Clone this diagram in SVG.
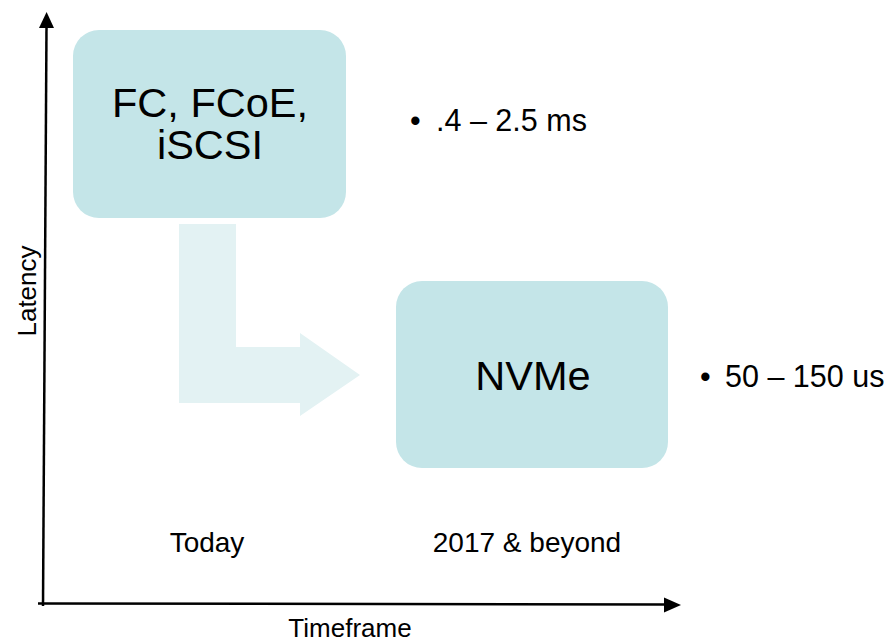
<svg xmlns="http://www.w3.org/2000/svg" width="894" height="639" viewBox="0 0 894 639">
  <style>
    text { font-family: "Liberation Sans", Arial, sans-serif; fill: #000; }
    .box { fill: #C4E5E8; }
    .axis { stroke: #000; stroke-width: 2.5; fill: none; }
    .head { fill: #000; }
    .flow { fill: #E3F2F3; }
    .big { font-size: 41.5px; text-anchor: middle; }
    .note { font-size: 30.5px; }
    .tick { font-size: 28px; text-anchor: middle; }
    .lbl { font-size: 26px; text-anchor: middle; }
  </style>
  <rect width="894" height="639" fill="#fff"/>

  <!-- axes -->
  <g id="axes">
    <line class="axis" x1="46.5" y1="26" x2="43" y2="606"/>
    <polygon class="head" points="46.6,12 39,28 54,28"/>
    <line class="axis" x1="38" y1="603.5" x2="666" y2="604.5"/>
    <polygon class="head" points="681,605 664,597.5 664,612.5"/>
    <text class="lbl" x="350" y="637">Timeframe</text>
    <text class="lbl" transform="translate(36,291) rotate(-90)">Latency</text>
  </g>

  <!-- connectors -->
  <g id="connectors">
    <polygon class="flow" points="179,224 236,224 236,347 300,347 300,333 360,375 300,416 300,403 179,403"/>
  </g>

  <g id="node-legacy">
    <rect class="box" x="73" y="30" width="273" height="188" rx="26"/>
    <text class="big" x="210" y="117">FC, FCoE,</text>
    <text class="big" x="210" y="159">iSCSI</text>
  </g>

  <g id="node-nvme">
    <rect class="box" x="396" y="281" width="272" height="187" rx="26"/>
    <text class="big" x="533" y="390">NVMe</text>
  </g>

  <g id="latency-notes">
    <text class="note" x="410" y="131">•</text>
    <text class="note" x="436" y="131">.4 – 2.5 ms</text>
    <text class="note" x="700" y="387">•</text>
    <text class="note" x="725" y="387">50 – 150 us</text>
  </g>

  <g id="timeframes">
    <text class="tick" x="207" y="552">Today</text>
    <text class="tick" x="527" y="552">2017 &amp; beyond</text>
  </g>
</svg>
